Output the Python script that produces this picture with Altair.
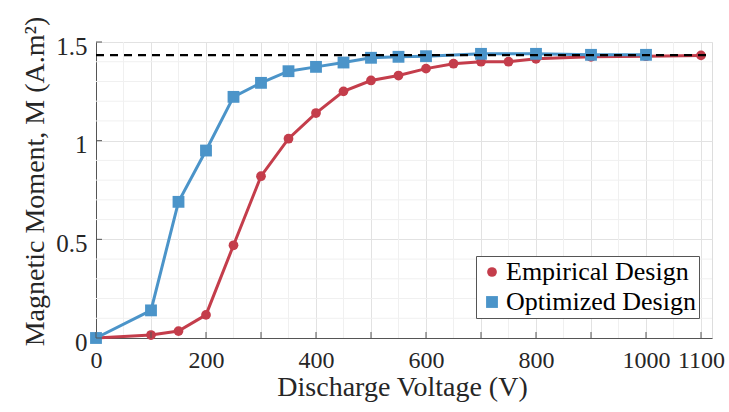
import altair as alt
import pandas as pd
import numpy as np

# ---- data ----
series_names = ["Empirical Design", "Optimized Design"]
emp_voltage = [0, 100, 150, 200, 250, 300, 350, 400, 450, 500, 550, 600, 650, 700, 750, 800, 900, 1000, 1100]
emp_moment = [0, 0.015, 0.035, 0.117, 0.47, 0.82, 1.01, 1.14, 1.25, 1.305, 1.33, 1.365, 1.39, 1.40, 1.40, 1.415, 1.425, 1.428, 1.432]
opt_voltage = [0, 100, 150, 200, 250, 300, 350, 400, 450, 500, 550, 600, 700, 800, 900, 1000]
opt_moment = [0, 0.14, 0.69, 0.95, 1.222, 1.293, 1.352, 1.374, 1.396, 1.42, 1.425, 1.428, 1.44, 1.44, 1.435, 1.435]
saturation = [1.433]
x_tick_values = [0, 100, 200, 300, 400, 500, 600, 700, 800, 900, 1000, 1100]
x_label_values = [0, 200, 400, 600, 800, 1000, 1100]
y_tick_values = [0, 0.5, 1, 1.5]

RED = "#C43D4B"
BLUE = "#4B94C9"
FONT = "Liberation Serif"
W, H = 616, 296

df = pd.concat([
    pd.DataFrame({"V": emp_voltage, "M": emp_moment, "series": series_names[0]}),
    pd.DataFrame({"V": opt_voltage, "M": opt_moment, "series": series_names[1]}),
], ignore_index=True)

xscale = alt.Scale(domain=[0, 1120], nice=False, zero=False)
yscale = alt.Scale(domain=[0, 1.5], nice=False, zero=False)
legend = alt.Legend(title=None, orient="none", legendX=380, legendY=214,
                    labelFont=FONT, labelFontSize=26, labelColor="black",
                    symbolSize=110, symbolStrokeWidth=0,
                    strokeColor="#555555", fillColor="white",
                    padding=3, rowPadding=4, labelOffset=1, labelLimit=400,
                    cornerRadius=0)
color = alt.Color("series:N", scale=alt.Scale(domain=series_names, range=[RED, BLUE]), legend=legend)
shape = alt.Shape("series:N", scale=alt.Scale(domain=series_names, range=["circle", "square"]), legend=legend)

# minor grid
minor_x = pd.DataFrame({"V": [v for v in np.arange(50, 1120, 100)]})
minor_y = pd.DataFrame({"M": [round(v, 2) for v in np.arange(0.1, 1.5, 0.1) if abs(v * 2 - round(v * 2)) > 1e-6]})
grid_minor_x = alt.Chart(minor_x).mark_rule(color="#f0f0f0", strokeWidth=1).encode(
    x=alt.X("V:Q", scale=xscale))
grid_minor_y = alt.Chart(minor_y).mark_rule(color="#f0f0f0", strokeWidth=1).encode(
    y=alt.Y("M:Q", scale=yscale))

label_expr = "indexof([0,200,400,600,800,1000,1100], datum.value) >= 0 ? format(datum.value, 'd') : ''"

lines = alt.Chart(df).mark_line(strokeWidth=3).encode(
    x=alt.X("V:Q", scale=xscale,
            axis=alt.Axis(values=x_tick_values, labelExpr=label_expr, title="Discharge Voltage (V)",
                          grid=True, gridColor="#e2e2e2", tickSize=0, domainColor="#555555",
                          labelFont=FONT, labelFontSize=24, labelColor="#262626", labelPadding=10,
                          labelFlush=False, labelOverlap=False,
                          titleFont=FONT, titleFontSize=28, titleFontWeight="normal", titleColor="#262626",
                          titleX=306, titleY=63, titleBaseline="bottom")),
    y=alt.Y("M:Q", scale=yscale,
            axis=alt.Axis(values=y_tick_values, format="~g", title="Magnetic Moment, M (A.m²)",
                          grid=True, gridColor="#e2e2e2", tickSize=0, domainColor="#555555",
                          labelFont=FONT, labelFontSize=25, labelColor="#262626", labelPadding=9,
                          labelOffset=4, labelFlush=False, labelOverlap=False,
                          titleFont=FONT, titleFontSize=28, titleFontWeight="normal", titleColor="#262626",
                          titleX=-47, titleY=139, titleBaseline="bottom", titleAngle=-90)),
    color=color,
    detail="series:N",
)

points = alt.Chart(df).mark_point(filled=True, opacity=1).encode(
    x=alt.X("V:Q", scale=xscale),
    y=alt.Y("M:Q", scale=yscale),
    color=color,
    shape=shape,
    size=alt.Size("series:N", scale=alt.Scale(domain=series_names, range=[95, 140]), legend=None),
)

# inward tick marks
xt = alt.Chart(pd.DataFrame({"V": x_tick_values})).mark_rule(color="#555555", strokeWidth=1).encode(
    x=alt.X("V:Q", scale=xscale), y=alt.value(H), y2=alt.value(H - 6))
yt = alt.Chart(pd.DataFrame({"M": y_tick_values})).mark_rule(color="#555555", strokeWidth=1).encode(
    y=alt.Y("M:Q", scale=yscale), x=alt.value(0), x2=alt.value(6))

dash = alt.Chart(pd.DataFrame({"M": saturation})).mark_rule(
    color="black", strokeWidth=2.2, strokeDash=[8, 6]).encode(
    y=alt.Y("M:Q", scale=yscale), x=alt.value(0), x2=alt.value(W))

chart = alt.layer(grid_minor_x, grid_minor_y, lines, points, dash, xt, yt).properties(
    width=W, height=H,
    autosize=alt.AutoSizeParams(type="none"),
    padding={"left": 96, "top": 42, "right": 17, "bottom": 74},
).configure_view(stroke=None).configure(background="white")

chart.save("out.html", embed_options={"renderer": "svg", "actions": False})
